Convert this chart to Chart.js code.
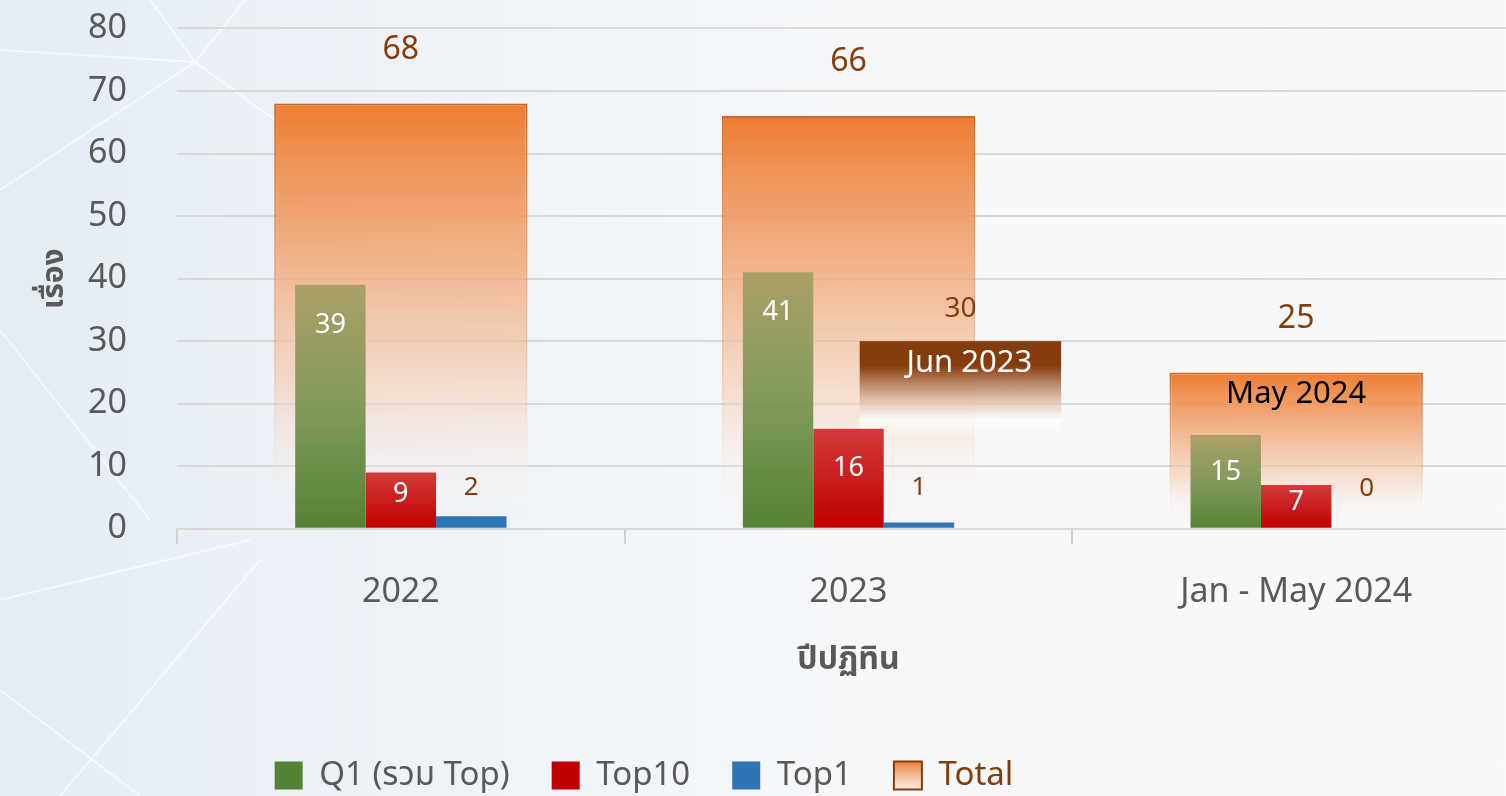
<!DOCTYPE html>
<html lang="th">
<head>
<meta charset="utf-8">
<title>เรื่อง by year</title>
<script src="https://cdn.jsdelivr.net/npm/chart.js@4.4.1/dist/chart.umd.min.js"></script>
<style>
  html, body { margin: 0; padding: 0; width: 1506px; height: 796px; overflow: hidden; }
  body { background: linear-gradient(90deg, #e4ecf4 0%, #eef2f7 25%, #f5f7f9 55%, #f8f9fa 100%); }
  #bg { position: absolute; left: 0; top: 0; }
  #wrap { position: relative; width: 1520px; height: 796px; }
</style>
</head>
<body>
<svg id="bg" width="1506" height="796">
  <g stroke="#ffffff" stroke-width="2" opacity="0.6" fill="none">
    <line x1="0" y1="50" x2="195" y2="62"/>
    <line x1="195" y1="62" x2="245" y2="0"/>
    <line x1="195" y1="62" x2="150" y2="0"/>
    <line x1="195" y1="62" x2="0" y2="190"/>
    <line x1="195" y1="62" x2="330" y2="160"/>
    <line x1="0" y1="330" x2="150" y2="520"/>
    <line x1="0" y1="600" x2="250" y2="540"/>
    <line x1="0" y1="690" x2="140" y2="796"/>
    <line x1="60" y1="796" x2="260" y2="560"/>
  </g>
</svg>
<div id="wrap"><canvas id="chart"></canvas></div>
<script>
const categories = ["2022", "2023", "Jan - May 2024"];
const q1Values = [39, 41, 15];
const top10Values = [9, 16, 7];
const top1Values = [2, 1, 0];
const totalValues = [68, 66, 25];
const totalNotes = ["", "", "May 2024"];

// "Jun 2023" box drawn in the right half of the 2023 category
const markerCategory = "2023";
const markerValue = 30;
const markerText = "Jun 2023";

const FONT = '"Noto Sans", "Noto Sans Thai", Tahoma, sans-serif';
const TEXT = "#595959";
const BROWN = "#843c0c";

Chart.defaults.font.family = FONT;
Chart.defaults.color = TEXT;

function makeGradient(ctx, top, bottom, stops) {
  const g = ctx.createLinearGradient(0, top, 0, bottom);
  stops.forEach(([o, c]) => g.addColorStop(o, c));
  return g;
}

/**
 * Vertical gradient from the bar's top down to zero
 */
function barGradient(context, stops) {
  const { chart, dataIndex, dataset } = context;
  const value = dataset.data[dataIndex];
  if (!chart.chartArea || value == null) return stops[0][1];
  const y = chart.scales.y;
  const top = y.getPixelForValue(value);
  const base = y.getPixelForValue(0);
  if (base - top < 1) return stops[0][1];
  return makeGradient(chart.ctx, top, base, stops);
}

const markerStops = [
  [0, "rgba(132,60,12,1)"],
  [0.13, "rgba(132,60,12,1)"],
  [0.3, "rgba(215,175,150,0.85)"],
  [0.42, "rgba(255,255,255,0.8)"],
  [0.52, "rgba(255,255,255,0)"],
];

// draws the Jun 2023 box just after the Total bars, below the small bars
const juneMarker = {
  id: "juneMarker",
  afterDatasetDraw(chart, args) {
    if (chart.data.datasets[args.index].id !== "total") return;
    const { x, y } = chart.scales;
    const idx = categories.indexOf(markerCategory);
    const step = x.getPixelForValue(1) - x.getPixelForValue(0);
    const left = x.getPixelForValue(idx + 0.025);
    const right = x.getPixelForValue(idx + 0.475);
    const top = y.getPixelForValue(markerValue);
    const base = y.getPixelForValue(0);
    const ctx = chart.ctx;
    ctx.save();
    ctx.fillStyle = makeGradient(ctx, top, base, markerStops);
    ctx.fillRect(left, top, right - left, base - top);
    ctx.textAlign = "center";
    ctx.textBaseline = "middle";
    ctx.fillStyle = BROWN;
    ctx.font = "28px " + FONT;
    ctx.fillText(markerValue, (left + right) / 2, top - 32);
    ctx.fillStyle = "#ffffff";
    ctx.font = "31px " + FONT;
    ctx.fillText(markerText, (left + right) / 2 + step * 0.02, top + 22);
    ctx.restore();
  },
};

const valueLabels = {
  id: "valueLabels",
  afterDatasetsDraw(chart) {
    const ctx = chart.ctx;
    ctx.save();
    ctx.textAlign = "center";
    ctx.textBaseline = "middle";
    chart.data.datasets.forEach((ds, di) => {
      const meta = chart.getDatasetMeta(di);
      meta.data.forEach((bar, i) => {
        const v = ds.data[i];
        if (v == null) return;
        const h = bar.base - bar.y;
        if (ds.id === "total") {
          ctx.fillStyle = BROWN;
          ctx.font = "32px " + FONT;
          ctx.fillText(v, bar.x, bar.y - 54);
          if (totalNotes[i]) {
            ctx.fillStyle = "#000000";
            ctx.font = "31px " + FONT;
            ctx.fillText(totalNotes[i], bar.x, bar.y + 22);
          }
        } else if (ds.id === "q1" || ds.id === "top10") {
          ctx.fillStyle = "#ffffff";
          ctx.font = "27px " + FONT;
          ctx.fillText(v, bar.x, bar.y + Math.min(40, h * 0.4));
        } else if (ds.id === "top1") {
          ctx.fillStyle = BROWN;
          ctx.font = "26px " + FONT;
          ctx.fillText(v, bar.x, Math.min(bar.y - 28, bar.base - 40));
        }
      });
    });
    ctx.restore();
  },
};

// legend in the reference is centred left of the canvas middle
const legendShift = {
  id: "legendShift",
  afterLayout(chart) {
    const lg = chart.legend;
    lg.left = 0;
    lg.right = 1288;
    lg.width = 1288;
    lg.top += 6;
    lg.bottom += 6;
  },
  beforeDraw(chart) {
    const lg = chart.legend;
    const boxTop = lg.top + 44;
    const total = (lg.legendItems || []).find((it) => it.text === "Total");
    if (total) {
      total.fillStyle = makeGradient(chart.ctx, boxTop, boxTop + 30, [
        [0, "#ed7d31"],
        [0.5, "#f5bf98"],
        [1, "#fdf3ec"],
      ]);
    }
  },
};

const groupOpts = { categoryPercentage: 0.472, barPercentage: 1, order: 1 };

new Chart(document.getElementById("chart"), {
  type: "bar",
  data: {
    labels: categories,
    datasets: [
      {
        id: "q1",
        label: "Q1 (รวม Top)",
        data: q1Values,
        legendColor: "#548235",
        backgroundColor: (c) => barGradient(c, [[0, "#ab9f68"], [0.5, "#829a5c"], [1, "#548235"]]),
        ...groupOpts,
      },
      {
        id: "top10",
        label: "Top10",
        data: top10Values,
        legendColor: "#c00000",
        backgroundColor: (c) => barGradient(c, [[0, "#d33a3a"], [1, "#c00000"]]),
        ...groupOpts,
      },
      {
        id: "top1",
        label: "Top1",
        data: top1Values,
        legendColor: "#2e75b6",
        backgroundColor: "#2e75b6",
        ...groupOpts,
      },
      {
        id: "total",
        label: "Total",
        data: totalValues,
        grouped: false,
        legendColor: "#f4b183",
        categoryPercentage: 1,
        barPercentage: 0.566,
        borderWidth: 2,
        borderSkipped: "start",
        borderColor: (c) => barGradient(c, [[0, "rgba(197,90,17,0.9)"], [0.6, "rgba(230,150,100,0.5)"], [1, "rgba(255,255,255,0)"]]),
        backgroundColor: (c) => barGradient(c, [
          [0, "rgba(237,125,49,1)"],
          [0.35, "rgba(240,165,115,0.85)"],
          [0.65, "rgba(245,200,170,0.6)"],
          [1, "rgba(255,255,255,0)"],
        ]),
        order: 3,
      },
    ],
  },
  options: {
    responsive: true,
    maintainAspectRatio: false,
    animation: false,
    layout: { padding: { top: 28, right: 0, left: 0, bottom: 0 } },
    scales: {
      x: {
        offset: true,
        grid: { drawOnChartArea: false, drawTicks: true, tickLength: 15, color: "#d0d0d0", lineWidth: 2 },
        border: { color: "#d9d9d9", width: 2 },
        ticks: { font: { size: 34 }, color: TEXT, padding: 28 },
        title: {
          display: true,
          text: "ปีปฏิทิน",
          font: { size: 32, weight: "bold" },
          color: TEXT,
          padding: { top: 0, bottom: 32 },
        },
      },
      y: {
        min: 0,
        max: 80,
        ticks: { stepSize: 10, font: { size: 34 }, color: TEXT, padding: 8 },
        grid: { drawTicks: true, tickLength: 42, tickColor: "rgba(0,0,0,0)", color: "#d9d9d9", lineWidth: 2 },
        border: { display: false },
        title: {
          display: true,
          text: "เรื่อง",
          font: { size: 30, weight: "bold" },
          color: TEXT,
          padding: { top: 36, bottom: 10 },
        },
        afterFit(scale) {
          scale.width = 177;
        },
      },
    },
    plugins: {
      tooltip: { enabled: false },
      legend: {
        position: "bottom",
        labels: {
          font: { size: 33 },
          boxWidth: 28,
          boxHeight: 28,
          padding: 42,
          generateLabels(chart) {
            return chart.data.datasets.map((ds, i) => ({
              text: ds.label,
              datasetIndex: i,
              fillStyle: ds.legendColor,
              strokeStyle: ds.id === "total" ? BROWN : ds.legendColor,
              lineWidth: ds.id === "total" ? 2 : 0,
              fontColor: ds.id === "total" ? BROWN : TEXT,
              hidden: false,
            }));
          },
        },
      },
    },
  },
  plugins: [juneMarker, valueLabels, legendShift],
});
</script>
</body>
</html>
